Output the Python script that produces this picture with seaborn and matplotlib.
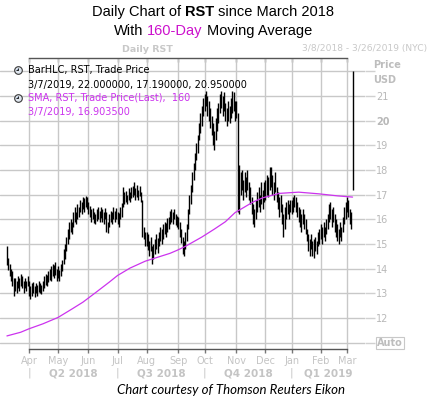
import matplotlib
matplotlib.use("Agg")
import matplotlib.pyplot as plt
import matplotlib.transforms as mtransforms
from matplotlib.path import Path
import pandas as pd
import seaborn as sns

# days the exchange was shut inside the window
holidays = ["2018-03-30", "2018-05-28", "2018-07-04", "2018-09-03", "2018-11-22",
            "2018-12-05", "2018-12-25", "2019-01-01", "2019-01-21", "2019-02-18"]

# daily bar lows / highs, one line per month (Mar-2018 .. Mar-2019)
lows = [14.15, 13.95, 13.7, 13.5, 13.3, 12.9, 13.1, 13.0, 13.2, 13.1, 13.3, 13.2, 13.0, 13.2, 13.1, 13.3,
        12.9, 12.75, 12.9, 13.0, 12.85, 13.0, 12.9, 13.05, 13.0, 12.95, 13.1, 13.2, 13.35, 13.3, 13.45, 13.55, 13.5, 13.7, 13.6, 13.75, 13.5,
        13.6, 13.5, 13.7, 13.9, 14.2, 14.4, 14.7, 15.0, 15.2, 15.5, 15.4, 15.7, 15.9, 15.8, 16.0, 16.1, 16.3, 16.2, 16.4, 16.3, 16.5, 16.4,
        16.2, 16.1, 15.9, 16.0, 15.85, 15.8, 15.95, 16.0, 15.9, 16.05, 15.9, 15.8, 16.0, 15.5, 15.45, 15.7, 15.9, 15.8, 16.0, 15.9, 16.0,
        15.8, 15.7, 16.0, 16.1, 16.5, 16.6, 16.7, 16.6, 16.8, 16.7, 16.85, 16.9, 17.0, 16.8, 16.9, 16.8, 16.95, 16.7, 15.3, 15.2, 14.9,
        14.9, 14.75, 14.5, 14.7, 14.2, 14.4, 14.6, 14.8, 14.65, 14.9, 15.1, 15.0, 15.2, 15.4, 15.3, 15.5, 15.6, 15.8, 15.9, 15.8, 16.0, 15.75, 15.7,
        15.6, 15.3, 15.05, 14.6, 14.5, 14.8, 15.1, 15.6, 16.2, 16.6, 17.1, 17.6, 18.0, 18.4, 18.7, 19.2, 19.5, 19.8, 20.2,
        20.4, 20.6, 20.2, 20.0, 19.7, 19.4, 19.0, 18.8, 19.2, 19.6, 19.9, 20.3, 20.5, 20.2, 20.4, 20.0, 19.8, 20.0, 19.9, 20.1, 20.3, 20.4, 20.0,
        20.1, 16.3, 16.2, 17.0, 17.2, 16.8, 17.1, 16.9, 17.2, 16.8, 16.6, 16.2, 15.8, 15.7, 16.0, 16.3, 16.5, 16.3, 16.6, 16.4, 16.7,
        16.8, 17.0, 16.9, 17.2, 17.3, 17.0, 16.8, 17.1, 16.7, 16.4, 16.1, 16.3, 15.8, 15.3, 15.6, 16.0, 16.2, 16.0, 16.3,
        16.2, 16.3, 16.5, 16.3, 16.1, 15.9, 15.7, 15.5, 15.8, 15.6, 15.4, 15.1, 14.7, 14.5, 14.8, 14.5, 14.45, 14.7, 14.6, 14.9, 15.0,
        15.2, 15.0, 15.3, 15.1, 15.4, 15.6, 15.9, 16.0, 15.7, 15.9, 15.5, 15.3, 15.1, 15.0, 15.3, 15.1, 15.5, 15.8, 16.0,
        16.3, 16.1, 15.8, 15.6, 17.19]
highs = [14.9, 14.45, 14.2, 14.0, 13.9, 13.6, 13.6, 13.5, 13.7, 13.6, 13.8, 13.7, 13.5, 13.6, 13.5, 13.7,
         13.5, 13.3, 13.4, 13.45, 13.3, 13.4, 13.35, 13.5, 13.4, 13.35, 13.5, 13.7, 13.8, 13.75, 13.9, 14.0, 14.1, 14.2, 14.15, 14.25, 14.0,
         14.1, 13.95, 14.2, 14.35, 14.8, 15.0, 15.3, 15.6, 15.9, 16.0, 15.9, 16.3, 16.5, 16.3, 16.6, 16.5, 16.8, 16.7, 16.9, 16.85, 16.95, 16.9,
         16.7, 16.55, 16.4, 16.45, 16.3, 16.2, 16.4, 16.5, 16.35, 16.5, 16.4, 16.3, 16.45, 16.3, 15.9, 16.2, 16.35, 16.3, 16.5, 16.35, 16.45,
         16.3, 16.25, 16.5, 16.65, 17.3, 17.1, 17.15, 17.0, 17.25, 17.1, 17.3, 17.35, 17.5, 17.25, 17.4, 17.2, 17.35, 17.1, 16.8, 15.7, 15.5,
         15.5, 15.4, 15.1, 15.3, 14.9, 15.0, 15.2, 15.4, 15.25, 15.5, 15.7, 15.6, 15.8, 15.9, 15.85, 16.05, 16.1, 16.35, 16.4, 16.3, 16.4, 16.2, 16.15,
         16.1, 15.9, 15.6, 15.3, 15.1, 15.5, 15.8, 16.4, 17.0, 17.4, 17.9, 18.3, 18.7, 19.1, 19.4, 19.9, 20.3, 20.6, 20.9,
         21.1, 21.2, 21.0, 20.8, 20.5, 20.2, 19.9, 19.6, 20.1, 20.5, 20.7, 21.1, 21.2, 21.0, 21.15, 20.7, 20.5, 20.8, 20.6, 20.9, 21.2, 21.15, 20.8,
         20.8, 20.3, 18.2, 17.9, 18.0, 17.6, 17.9, 17.7, 18.0, 17.5, 17.3, 16.9, 16.6, 16.4, 16.8, 17.1, 17.3, 17.0, 17.5, 17.2, 17.5,
         17.6, 17.8, 17.7, 18.1, 18.1, 17.8, 17.5, 17.9, 17.3, 17.1, 16.9, 17.0, 16.6, 16.2, 16.5, 16.7, 16.8, 16.6, 16.8,
         16.8, 16.9, 17.0, 16.9, 16.7, 16.5, 16.4, 16.2, 16.4, 16.2, 16.0, 15.6, 15.4, 15.2, 15.4, 15.1, 15.2, 15.3, 15.1, 15.5, 15.6,
         15.8, 15.7, 15.9, 15.7, 16.0, 16.2, 16.6, 16.7, 16.4, 16.5, 16.2, 16.0, 15.8, 15.6, 15.9, 15.7, 16.1, 16.5, 16.7,
         16.9, 16.8, 16.4, 16.3, 22.0]

# 160-day SMA
sma_dates = ["2018-03-08", "2018-03-22", "2018-04-02", "2018-04-16", "2018-05-01", "2018-05-15",
             "2018-05-25", "2018-06-08", "2018-06-22", "2018-07-02", "2018-07-16", "2018-07-31",
             "2018-08-13", "2018-08-24", "2018-08-31", "2018-09-11", "2018-09-27", "2018-10-10",
             "2018-10-22", "2018-10-31", "2018-11-19", "2018-11-29", "2018-12-18", "2019-01-09",
             "2019-01-31", "2019-02-20", "2019-03-07"]
sma_values = [11.27, 11.42, 11.56, 11.76, 12.02, 12.36, 12.64, 13.02, 13.45, 13.72, 14.02, 14.3,
              14.46, 14.62, 14.74, 14.9, 15.28, 15.6, 15.9, 16.27, 16.7, 16.87, 17.05, 17.1,
              17.03, 16.95, 16.9]

month_names = ["Apr", "May", "Jun", "Jul", "Aug", "Sep", "Oct", "Nov", "Dec", "Jan", "Feb", "Mar"]
quarter_names = ["Q2 2018", "Q3 2018", "Q4 2018", "Q1 2019"]
grid_levels = list(range(11, 23))
price_labels = ["" if v in (11, 22) else str(v) for v in grid_levels]

W, H = 430, 397
GRAY = "#c4c4c4"
MAGENTA = "#cc33ee"


def fx(px):
    return px / W


def fy(py):
    return 1 - py / H


dates = pd.bdate_range("2018-03-08", "2019-03-07", freq="C", holidays=holidays)
bars = pd.DataFrame({"date": dates, "low": lows, "high": highs})
bars["pos"] = range(len(bars))  # eikon spaces the bars by trading day

sma = pd.DataFrame({"date": pd.to_datetime(sma_dates), "sma": sma_values})
sma["pos"] = dates.get_indexer(sma["date"])

month_pos = bars.groupby(bars.date.dt.to_period("M")).pos.min().iloc[1:].tolist()
x_lo, x_hi = -5, 259

sns.set_theme(style="white")
plt.rcParams["font.family"] = "DejaVu Sans"

fig = plt.figure(figsize=(W / 100, H / 100), dpi=100)
ax = fig.add_axes([0, fy(349), fx(365), (349 - 58) / H])

ax.vlines(bars.pos, bars.low, bars.high, color="black", lw=1.0, zorder=3)
sns.lineplot(data=sma, x="pos", y="sma", color=MAGENTA, lw=0.9, ax=ax, zorder=4)

ax.set_xlim(x_lo, x_hi)
ax.set_ylim(10.74, 22.54)
ax.set_xlabel("")
ax.set_ylabel("")
ax.set_xticks(month_pos, month_names)
ax.set_yticks(grid_levels, price_labels)
ax.yaxis.tick_right()
ax.grid(True, color="#c8c8c8", lw=1)
ax.set_axisbelow(True)
for side in ["left", "right"]:
    ax.spines[side].set_visible(False)
for side in ["top", "bottom"]:
    ax.spines[side].set_bounds(month_pos[0], month_pos[-1])
    ax.spines[side].set_color("#555555")
    ax.spines[side].set_linewidth(1)
ax.tick_params(axis="x", bottom=True, direction="out", length=3, width=1, color="#777777",
               labelsize=7, labelcolor=GRAY, pad=2)
ax.tick_params(axis="y", right=True, left=False, length=7, width=1, color="#d0d0d0",
               labelsize=7, labelcolor="#b8b8b8", pad=1)
for lab in ax.get_yticklabels():
    if lab.get_text() == "20":
        lab.set_fontweight("bold")

top = ax.secondary_xaxis("top")
top.set_xticks(month_pos, [""] * len(month_pos))
top.tick_params(direction="in", length=3, width=1, color="#777777")
for s in top.spines.values():
    s.set_visible(False)

# quarter row under the months
blend = mtransforms.blended_transform_factory(ax.transData, fig.transFigure)
q_edges = [month_pos[0], month_pos[3], month_pos[6], month_pos[9], x_hi]
for i, name in enumerate(quarter_names):
    ax.text((q_edges[i] + q_edges[i + 1]) / 2, fy(373), name, transform=blend, ha="center",
            va="center", fontsize=7.5, fontweight="bold", color=GRAY, clip_on=False)
    ax.text(q_edges[i], fy(373), "|", transform=blend, ha="center", va="center",
            fontsize=7.5, color=GRAY, clip_on=False)

# right axis captions
fig.text(fx(373), fy(65), "Price", fontsize=7, fontweight="bold", color="#bdbdbd", va="center")
fig.text(fx(373), fy(80), "USD", fontsize=7, fontweight="bold", color="#bdbdbd", va="center")
fig.text(fx(377), fy(343), "Auto", fontsize=7, fontweight="bold", color="#bdbdbd", va="center",
         bbox=dict(facecolor="white", edgecolor="#c8c8c8", boxstyle="square,pad=0.15", lw=0.8))

# header strip
fig.text(fx(147), fy(49), "Daily RST", fontsize=6.8, fontweight="bold", color="#c8c8c8",
         ha="center", va="center")
fig.text(fx(427), fy(49), "3/8/2018 - 3/26/2019 (NYC)", fontsize=6.6, color="#c8c8c8",
         ha="right", va="center")

# legend block with little clock icons
hands = Path([(0, 0.5), (0, 0), (-0.4, 0)], [Path.MOVETO, Path.LINETO, Path.LINETO])
for yy in (70, 98):
    fig.lines.append(plt.Line2D([fx(18)], [fy(yy)], marker="o", ms=5.5, mfc="#dfe6ee",
                                mec="#3a3a3a", mew=0.8, transform=fig.transFigure))
    fig.lines.append(plt.Line2D([fx(18)], [fy(yy)], marker=hands, ms=3, mec="#222222",
                                mew=0.7, transform=fig.transFigure))
legend_rows = [("BarHLC, RST, Trade Price", "black", 70),
               ("3/7/2019, 22.000000, 17.190000, 20.950000", "black", 85),
               ("SMA, RST, Trade Price(Last),  160", MAGENTA, 98),
               ("3/7/2019, 16.903500", MAGENTA, 112)]
for txt, col, yy in legend_rows:
    fig.text(fx(28), fy(yy), txt, fontsize=7, color=col, va="center", zorder=10)

# title made of coloured / bold runs
renderer = fig.canvas.get_renderer()


def title_line(runs, y, size=10.5, center=213):
    space = 0.278 * size * 100 / 72
    items = []
    for s, kw in runs:
        t = fig.text(0, fy(y), s, fontsize=size, family="Liberation Sans", va="center", **kw)
        items.append((t, t.get_window_extent(renderer).width))
    total = sum(w for _, w in items) + space * (len(items) - 1)
    x = center - total / 2
    for t, w in items:
        t.set_x(fx(x))
        x += w + space


title_line([("Daily Chart of", {"color": "black"}), ("RST", {"fontweight": "bold", "color": "black"}),
            ("since March 2018", {"color": "black"})], 12)
title_line([("With", {"color": "black"}), ("160-Day", {"color": "#cc11cc"}),
            ("Moving Average", {"color": "black"})], 31)

fig.text(fx(231), fy(390), "Chart courtesy of Thomson Reuters Eikon", fontsize=9.5,
         family="Lato", style="italic", color="black", ha="center", va="center")

fig.savefig("out.png", dpi=100, facecolor="white")
